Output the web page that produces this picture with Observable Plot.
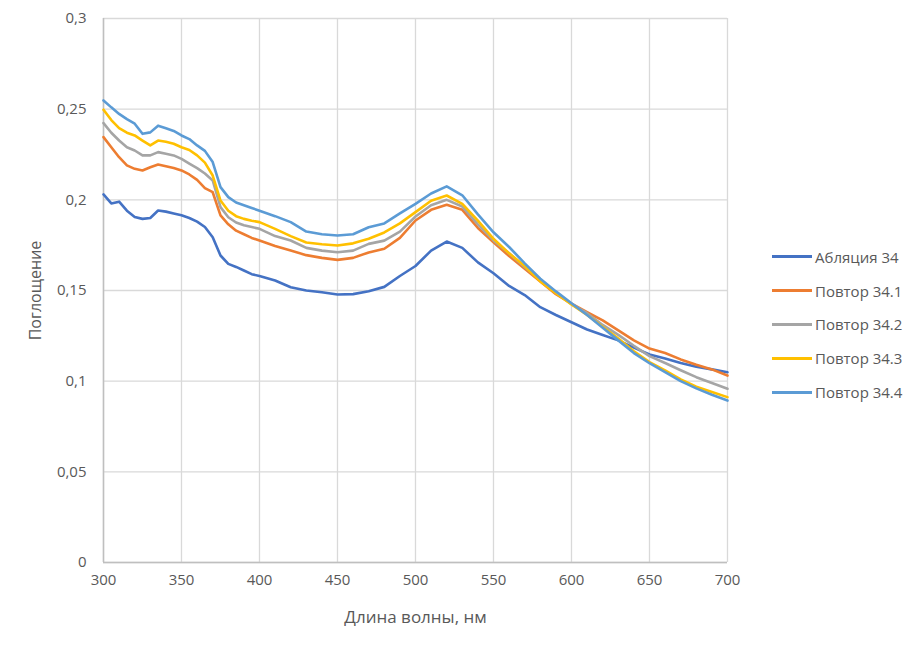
<!DOCTYPE html>
<html>
<head>
<meta charset="utf-8">
<script src="https://cdn.jsdelivr.net/npm/d3@7"></script>
<script src="https://cdn.jsdelivr.net/npm/@observablehq/plot@0.6"></script>
<style>
  html, body { margin: 0; padding: 0; background: #fff; }
  #wrap { position: relative; width: 923px; height: 647px; font-family: "Open Sans", sans-serif; }
  #legend { position: absolute; left: 772px; top: 240px; font-size: 15px; color: #595959; }
  .row { display: flex; align-items: center; height: 33.8px; white-space: nowrap; }
  .sw { width: 40px; height: 3px; margin-right: 3px; }
</style>
</head>
<body>
<div id="wrap"><div id="chart"></div><div id="legend"></div></div>
<script>
const wavelengths = [300,305,310,315,320,325,330,335,340,345,350,355,360,365,370,375,380,385,390,395,400,
  410,420,430,440,450,460,470,480,490,500,510,520,530,540,550,560,570,580,590,600,
  610,620,630,640,650,660,670,680,690,700];

const seriesNames = ["Абляция 34", "Повтор 34.1", "Повтор 34.2", "Повтор 34.3", "Повтор 34.4"];
const seriesColors = ["#4472C4", "#ED7D31", "#A5A5A5", "#FFC000", "#5B9BD5"];

const ablation34 = [0.203,0.198,0.199,0.194,0.1905,0.1895,0.190,0.1941,0.1935,0.1925,0.1915,0.190,0.188,0.185,0.1794,0.1693,0.1647,0.163,0.161,0.159,0.158,
  0.1555,0.1518,0.150,0.149,0.1478,0.148,0.1496,0.152,0.158,0.1635,0.172,0.177,0.1735,0.1655,0.1595,0.1525,0.1475,0.1408,0.1365,0.1325,
  0.1285,0.1255,0.1225,0.1185,0.1147,0.1125,0.110,0.108,0.1065,0.1049];
const repeat341 = [0.2346,0.229,0.2235,0.219,0.2171,0.2162,0.218,0.2195,0.2185,0.2175,0.2162,0.214,0.211,0.2065,0.2042,0.1914,0.1865,0.183,0.181,0.179,0.1776,
  0.1745,0.172,0.1695,0.168,0.1669,0.168,0.171,0.173,0.179,0.1886,0.1945,0.1973,0.1945,0.1845,0.1766,0.169,0.162,0.155,0.148,0.1427,
  0.138,0.1335,0.128,0.1225,0.118,0.1155,0.112,0.109,0.1065,0.1031];
const repeat342 = [0.2423,0.237,0.2327,0.229,0.2272,0.2245,0.2245,0.2263,0.2254,0.2245,0.2226,0.220,0.2175,0.2145,0.2107,0.196,0.1904,0.1875,0.186,0.185,0.184,
  0.180,0.1776,0.1735,0.172,0.1711,0.172,0.1757,0.1775,0.1825,0.1908,0.197,0.200,0.1963,0.1865,0.1776,0.1705,0.163,0.156,0.149,0.1425,
  0.1375,0.131,0.1255,0.1195,0.1138,0.110,0.106,0.1022,0.099,0.0958];
const repeat343 = [0.2497,0.244,0.2395,0.237,0.2355,0.2327,0.230,0.2327,0.232,0.2309,0.229,0.2275,0.2245,0.2205,0.2134,0.1996,0.194,0.191,0.1895,0.1885,0.1877,
  0.184,0.180,0.1765,0.1755,0.1748,0.176,0.1785,0.182,0.187,0.1932,0.1995,0.2024,0.1978,0.1885,0.1785,0.1705,0.1635,0.155,0.1485,0.1423,
  0.1365,0.130,0.1235,0.1165,0.1105,0.106,0.101,0.097,0.094,0.0912];
const repeat344 = [0.2548,0.251,0.2474,0.2445,0.242,0.2364,0.2372,0.2409,0.2395,0.238,0.2355,0.2335,0.230,0.227,0.2208,0.207,0.2015,0.1985,0.197,0.1955,0.194,
  0.191,0.1877,0.1825,0.181,0.1803,0.181,0.1849,0.187,0.1925,0.1978,0.2035,0.2074,0.2025,0.192,0.1821,0.174,0.165,0.1565,0.1495,0.143,
  0.1365,0.1295,0.1225,0.1155,0.1099,0.105,0.100,0.096,0.0925,0.0893];

const xTicks = [300,350,400,450,500,550,600,650,700];
const yTicks = [0,0.05,0.1,0.15,0.2,0.25,0.3];
const xTitle = "Длина волны, нм";
const yTitle = "Поглощение";

const allSeries = [ablation34, repeat341, repeat342, repeat343, repeat344];
const data = [];
allSeries.forEach((vals, i) => vals.forEach((v, j) => data.push({wl: wavelengths[j], v, series: seriesNames[i]})));

const fmt = d => String(+d.toFixed(2)).replace(".", ",");

const chart = Plot.plot({
  width: 923, height: 647,
  marginLeft: 103, marginRight: 196, marginTop: 18, marginBottom: 85,
  style: {fontFamily: "'Open Sans', sans-serif", fontSize: "15px", color: "#595959", background: "#fff"},
  x: {domain: [300, 700]},
  y: {domain: [0, 0.3]},
  color: {domain: seriesNames, range: seriesColors},
  marks: [
    Plot.gridX(xTicks, {stroke: "#d9d9d9", strokeOpacity: 1, strokeWidth: 1.3}),
    Plot.gridY(yTicks, {stroke: "#d9d9d9", strokeOpacity: 1, strokeWidth: 1.3}),
    Plot.ruleY([0], {stroke: "#bfbfbf", strokeWidth: 1.5}),
    Plot.ruleX([300], {stroke: "#bfbfbf", strokeWidth: 1.5}),
    Plot.lineY(data, {x: "wl", y: "v", z: "series", stroke: "series", strokeWidth: 2.6, curve: "linear"}),
    Plot.axisX({ticks: xTicks, tickSize: 0, tickPadding: 12, tickFormat: d => String(d), label: null}),
    Plot.axisY({ticks: yTicks, tickSize: 0, tickPadding: 17, tickFormat: fmt, label: null}),
    Plot.text([xTitle], {frameAnchor: "bottom", dy: 60, fontSize: 17, fill: "#595959", textAnchor: "middle"}),
    Plot.text([yTitle], {frameAnchor: "left", dx: -68, rotate: -90, fontSize: 16, fill: "#595959", textAnchor: "middle"})
  ]
});
document.getElementById("chart").appendChild(chart);

const legend = document.getElementById("legend");
seriesNames.forEach((name, i) => {
  const row = document.createElement("div");
  row.className = "row";
  const sw = document.createElement("div");
  sw.className = "sw";
  sw.style.background = seriesColors[i];
  const t = document.createElement("span");
  t.textContent = name;
  row.appendChild(sw); row.appendChild(t);
  legend.appendChild(row);
});
</script>
</body>
</html>
